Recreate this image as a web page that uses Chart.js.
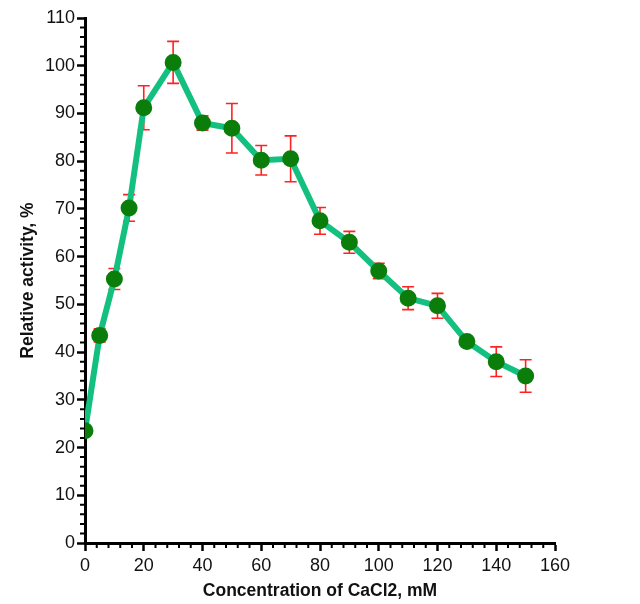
<!DOCTYPE html>
<html>
<head>
<meta charset="utf-8">
<script src="https://cdn.jsdelivr.net/npm/chart.js@4"></script>
<style>
  html, body { margin: 0; padding: 0; background: #fff; }
  #wrap { width: 640px; height: 604px; }
</style>
</head>
<body>
<div id="wrap"><canvas id="activityChart" width="640" height="604"></canvas></div>
<script>
// concentration of CaCl2 (mM)
const concentrations = [0, 5, 10, 15, 20, 30, 40, 50, 60, 70, 80, 90, 100, 110, 120, 130, 140, 150];
// relative activity (%)
const activity = [23.5, 43.5, 55.3, 70.2, 91.2, 100.7, 88.0, 86.9, 80.2, 80.5, 67.5, 63.0, 57.0, 51.3, 49.7, 42.2, 38.0, 35.0];
// standard deviation (%)
const errors = [0, 1.4, 2.2, 2.8, 4.6, 4.4, 1.5, 5.2, 3.1, 4.8, 2.8, 2.3, 1.6, 2.4, 2.6, 0, 3.1, 3.4];

const xTicks = [0, 20, 40, 60, 80, 100, 120, 140, 160];
const yTicks = [0, 10, 20, 30, 40, 50, 60, 70, 80, 90, 100, 110];

const errorBars = {
    id: 'errorBars',
    beforeDatasetsDraw(chart) {
        const ctx = chart.ctx;
        const x = chart.scales.x, y = chart.scales.y;
        ctx.save();
        ctx.strokeStyle = '#f22';
        ctx.lineWidth = 1.6;
        concentrations.forEach((c, i) => {
            if (!errors[i]) return;
            const px = x.getPixelForValue(c);
            const top = y.getPixelForValue(activity[i] + errors[i]);
            const bot = y.getPixelForValue(activity[i] - errors[i]);
            ctx.beginPath();
            ctx.moveTo(px, top); ctx.lineTo(px, bot);
            ctx.moveTo(px - 6, top); ctx.lineTo(px + 6, top);
            ctx.moveTo(px - 6, bot); ctx.lineTo(px + 6, bot);
            ctx.stroke();
        });
        ctx.restore();
    }
};

const minorTicks = {
    id: 'minorTicks',
    afterDraw(chart) {
        const ctx = chart.ctx;
        const x = chart.scales.x, y = chart.scales.y;
        const area = chart.chartArea;
        ctx.save();
        ctx.strokeStyle = '#000';
        ctx.lineWidth = 2;
        ctx.beginPath();
        for (let v = 0; v <= 110; v += 2) {
            if (v % 10 === 0) continue;
            const py = y.getPixelForValue(v);
            ctx.moveTo(area.left, py); ctx.lineTo(area.left - 5, py);
        }
        for (let v = 0; v <= 160; v += 4) {
            if (v % 20 === 0) continue;
            const px = x.getPixelForValue(v);
            ctx.moveTo(px, area.bottom); ctx.lineTo(px, area.bottom + 5);
        }
        ctx.stroke();
        ctx.restore();
    }
};

const ctx = document.getElementById('activityChart').getContext('2d');
new Chart(ctx, {
    type: 'line',
    data: {
        datasets: [{
            data: concentrations.map((c, i) => ({ x: c, y: activity[i] })),
            borderColor: '#14c07f',
            borderWidth: 6,
            pointBackgroundColor: '#0b7d0b',
            pointBorderColor: '#0b7d0b',
            pointRadius: 5.5,
            tension: 0
        }]
    },
    options: {
        responsive: false,
        animation: false,
        devicePixelRatio: 1,
        layout: { padding: { top: 18, right: 85, left: 14, bottom: 0 } },
        plugins: { legend: { display: false }, tooltip: { enabled: false } },
        scales: {
            x: {
                type: 'linear',
                min: 0, max: 160,
                afterBuildTicks: s => { s.ticks = xTicks.map(v => ({ value: v })); },
                afterFit: s => { s.height = 61; },
                grid: { drawOnChartArea: false, tickLength: 8, tickWidth: 2.5, tickColor: '#000' },
                border: { color: '#000', width: 3 },
                ticks: { color: '#111', font: { family: 'Liberation Sans', size: 18 }, padding: 4, maxRotation: 0 },
                title: { display: true, text: 'Concentration of CaCl2, mM', color: '#111',
                    font: { family: 'Liberation Sans', size: 17.5, weight: 'bold' }, padding: { top: 4, bottom: 2 } }
            },
            y: {
                min: 0, max: 110,
                afterBuildTicks: s => { s.ticks = yTicks.map(v => ({ value: v })); },
                afterFit: s => { s.width = 71; },
                grid: { drawOnChartArea: false, tickLength: 8, tickWidth: 2.5, tickColor: '#000' },
                border: { color: '#000', width: 3 },
                ticks: { color: '#111', font: { family: 'Liberation Sans', size: 18 }, padding: 2 },
                title: { display: true, text: 'Relative activity, %', color: '#111',
                    font: { family: 'Liberation Sans', size: 17.5, weight: 'bold' }, padding: { bottom: 6 } }
            }
        }
    },
    plugins: [errorBars, minorTicks]
});
</script>
</body>
</html>
